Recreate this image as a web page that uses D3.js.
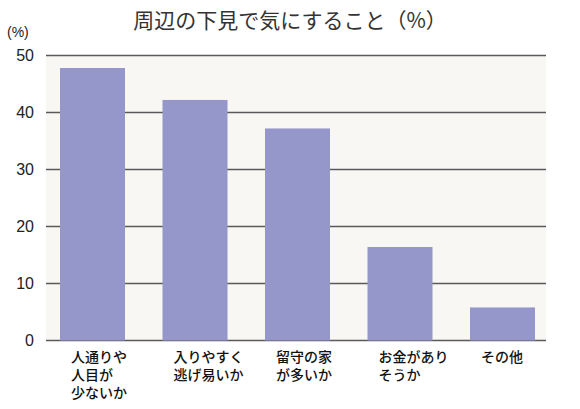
<!DOCTYPE html>
<html>
<head>
<meta charset="utf-8">
<script src="https://cdn.jsdelivr.net/npm/d3@7"></script>
<style>
  body { margin: 0; background: #fff; }
  text { font-family: "Noto Sans CJK JP", "Noto Sans", sans-serif; fill: #222; }
</style>
</head>
<body>
<script>
// データ
const categories = [
    ["人通りや", "人目が", "少ないか"],
    ["入りやすく", "逃げ易いか"],
    ["留守の家", "が多いか"],
    ["お金があり", "そうか"],
    ["その他"]
]
const values = [47.8, 42.2, 37.2, 16.4, 5.8]
const yTicks = [0, 10, 20, 30, 40, 50]

const width = 580
const height = 409

const svg = d3.select("body")
    .append("svg")
    .attr("width", width)
    .attr("height", height)

const x = d3.scaleBand()
    .domain(d3.range(values.length))
    .range([46, 549])
    .paddingInner(0.366)
    .paddingOuter(0.1366)

const y = d3.scaleLinear()
    .domain([0, 50])
    .range([340.5, 55.5])

// 背景
svg.append("rect")
    .attr("x", 46)
    .attr("y", y(50))
    .attr("width", 500)
    .attr("height", y(0) - y(50))
    .attr("fill", "#f8f7f4")

// グリッド線
svg.append("g")
    .selectAll("line")
    .data(yTicks)
    .enter()
    .append("line")
    .attr("x1", 46)
    .attr("x2", 546)
    .attr("y1", d => y(d))
    .attr("y2", d => y(d))
    .attr("stroke", "#5a5a5a")
    .attr("stroke-width", 1.3)

// 棒
svg.append("g")
    .selectAll("rect")
    .data(values)
    .enter()
    .append("rect")
    .attr("x", (d, i) => x(i))
    .attr("y", d => y(d))
    .attr("width", x.bandwidth())
    .attr("height", d => y(0) - y(d))
    .attr("fill", "#9596c9")

// 目盛りラベル
svg.append("g")
    .selectAll("text")
    .data(yTicks)
    .enter()
    .append("text")
    .attr("x", 34)
    .attr("y", d => y(d))
    .attr("dy", "0.36em")
    .attr("text-anchor", "end")
    .style("font-family", "'Liberation Sans', Arial, sans-serif")
    .style("font-size", "16px")
    .text(d => d)

svg.append("text")
    .attr("x", 7)
    .attr("y", 37)
    .style("font-family", "'Liberation Sans', Arial, sans-serif")
    .style("font-size", "14px")
    .text("(%)")

// タイトル
svg.append("text")
    .attr("x", 290)
    .attr("y", 28)
    .attr("text-anchor", "middle")
    .style("font-size", "21px")
    .style("fill", "#333")
    .text("周辺の下見で気にすること（%）")

// カテゴリラベル
svg.append("g")
    .selectAll("text")
    .data(categories)
    .enter()
    .append("text")
    .attr("x", (d, i) => x(i) + 11)
    .attr("y", 362)
    .style("font-size", "14px")
    .style("font-weight", 500)
    .style("fill", "#111")
    .each(function(d) {
        d3.select(this).selectAll("tspan")
            .data(d)
            .enter()
            .append("tspan")
            .attr("x", d3.select(this).attr("x"))
            .attr("dy", (t, j) => j === 0 ? 0 : 18)
            .text(t => t)
    })
</script>
</body>
</html>
